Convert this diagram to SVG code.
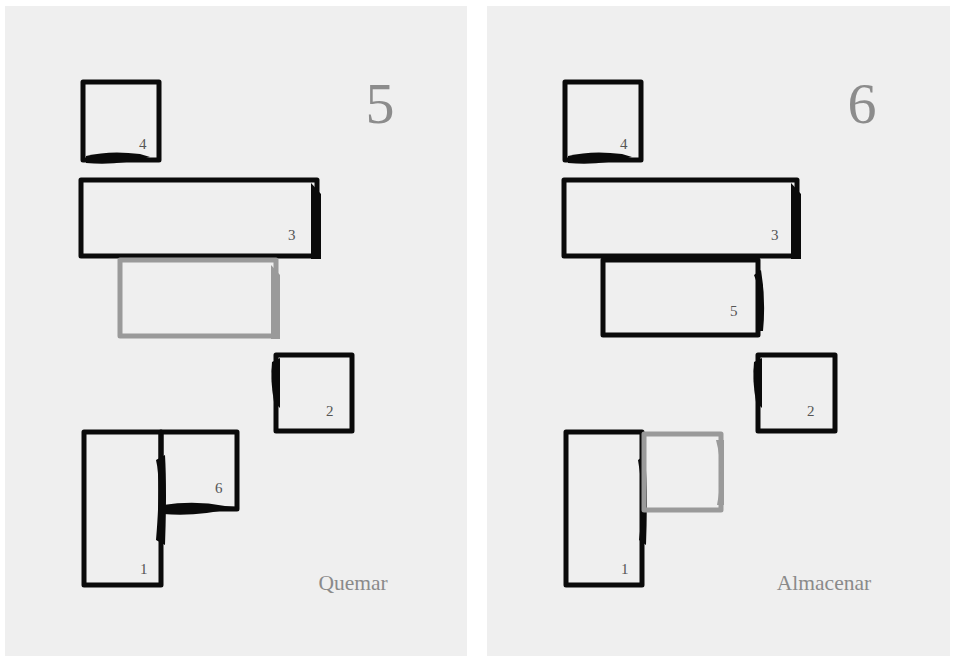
<svg xmlns="http://www.w3.org/2000/svg" width="955" height="660" viewBox="0 0 955 660">
<style>
.panel{fill:#efefef}
.b{fill:none;stroke:#0a0a0a;stroke-width:5;stroke-linejoin:round}
.g{fill:none;stroke:#9a9a9a;stroke-width:5;stroke-linejoin:round}
.bk{fill:#0a0a0a}
.gk{fill:#9a9a9a}
.lbl{font-family:"Liberation Serif","DejaVu Serif",serif;font-size:15px;fill:#555}
.big{font-family:"Liberation Serif","DejaVu Serif",serif;font-size:58px;fill:#8c8c8c;text-anchor:middle}
.cap{font-family:"Liberation Serif","DejaVu Serif",serif;font-size:21.5px;fill:#8a8a8a;text-anchor:middle}
</style>
<rect width="955" height="660" fill="#ffffff"/>
<rect class="panel" x="5" y="6" width="462" height="650"/>
<rect class="panel" x="487" y="6" width="463" height="650"/>

<g id="left-panel">
  <g id="L-box4">
    <rect class="b" x="83" y="82" width="76" height="78"/>
    <path class="bk" d="M86 156 Q110 150 140 154 L150 157 Q118 166 86 163 Z"/>
    <text class="lbl" x="139" y="149">4</text>
  </g>
  <g id="L-box3">
    <rect class="b" x="81" y="180" width="236" height="76"/>
    <path class="bk" d="M311 183 L321 194 L321 259 L311 259 Z"/>
    <text class="lbl" x="288" y="240">3</text>
  </g>
  <g id="L-box-gray">
    <rect class="g" x="120" y="260" width="156" height="76"/>
    <path class="gk" d="M271 265 L280 275 L280 339 L271 339 Z"/>
  </g>
  <g id="L-box2">
    <rect class="b" x="276" y="355" width="76" height="76"/>
    <path class="bk" d="M272 362 Q270 380 274 402 L280 408 L280 358 Z"/>
    <text class="lbl" x="326" y="416">2</text>
  </g>
  <g id="L-box1">
    <rect class="b" x="84" y="432" width="77" height="153"/>
    <text class="lbl" x="140" y="574">1</text>
  </g>
  <g id="L-box6">
    <rect class="b" x="161" y="432" width="76" height="77"/>
    <path class="bk" d="M156 460 Q161 480 156 540 L165 545 Q167 490 165 455 Z"/>
    <path class="bk" d="M163 505 Q195 500 225 506 L237 507 Q200 517 163 514 Z"/>
    <text class="lbl" x="215" y="493">6</text>
  </g>
  <text class="big" x="380" y="123">5</text>
  <text class="cap" x="353" y="590">Quemar</text>
</g>

<g id="right-panel">
  <g id="R-box4">
    <rect class="b" x="565" y="82" width="76" height="78"/>
    <path class="bk" d="M568 156 Q592 150 622 154 L632 157 Q600 166 568 163 Z"/>
    <text class="lbl" x="620" y="149">4</text>
  </g>
  <g id="R-box3">
    <rect class="b" x="564" y="180" width="233" height="76"/>
    <path class="bk" d="M791 183 L801 194 L801 259 L791 259 Z"/>
    <text class="lbl" x="771" y="240">3</text>
  </g>
  <g id="R-box5">
    <rect class="b" x="603" y="260" width="155" height="75"/>
    <path class="bk" d="M754 275 Q763 295 757 331 L763 331 Q766 300 761 270 Z"/>
    <text class="lbl" x="730" y="316">5</text>
  </g>
  <g id="R-box2">
    <rect class="b" x="758" y="355" width="77" height="76"/>
    <path class="bk" d="M754 362 Q752 380 756 402 L762 408 L762 358 Z"/>
    <text class="lbl" x="807" y="416">2</text>
  </g>
  <g id="R-box1">
    <rect class="b" x="566" y="432" width="76" height="153"/>
    <path class="bk" d="M638 460 Q645 500 639 540 L646 545 Q648 490 645 455 Z"/>
    <text class="lbl" x="621" y="574">1</text>
  </g>
  <g id="R-box-gray">
    <rect class="g" x="644" y="434" width="77" height="76"/>
    <path class="gk" d="M716 440 Q724 470 717 505 L724 505 L724 440 Z"/>
  </g>
  <text class="big" x="862" y="123">6</text>
  <text class="cap" x="824" y="590">Almacenar</text>
</g>
</svg>
